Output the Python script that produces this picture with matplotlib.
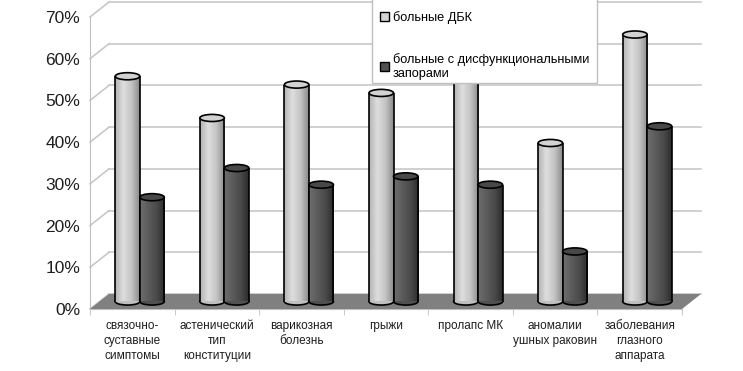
import numpy as np
import matplotlib
matplotlib.use('Agg')
import matplotlib.pyplot as plt
from matplotlib.patches import Ellipse, Polygon, Patch, Rectangle
from matplotlib.colors import LinearSegmentedColormap
from matplotlib.transforms import Affine2D

# данные
categories = ['связочно-\nсуставные\nсимптомы', 'астенический\nтип\nконституции',
              'варикозная\nболезнь', 'грыжи', 'пролапс МК',
              'аномалии\nушных раковин', 'заболевания\nглазного\nаппарата']
dbk = [54, 44, 52, 50, 56, 38, 64]
zapory = [25, 32, 28, 30, 28, 12, 42]
series_names = ['больные ДБК', 'больные с дисфункциональными\nзапорами']
y_ticks = [0, 10, 20, 30, 40, 50, 60, 70]

plt.rcParams['font.family'] = ['Liberation Sans', 'DejaVu Sans']

light_cmap = LinearSegmentedColormap.from_list('light', ['#b4b4b4', '#dedede', '#c4c4c4', '#8a8a8a'])
dark_cmap = LinearSegmentedColormap.from_list('dark', ['#6e6e6e', '#5c5c5c', '#4a4a4a', '#2c2c2c'])

W, H = 743, 371
fig = plt.figure(figsize=(W / 100, H / 100), dpi=100)
ax = fig.add_axes([90 / W, 62 / H, 592 / W, 292 / H])
n = len(categories)
ax.set_xlim(0, n)
ax.set_ylim(0, 70)

# смещения "глубины" в пикселях
mid = ax.transData + Affine2D().translate(7.5, 7.5)
back = ax.transData + Affine2D().translate(19, 15)
inv = ax.transData.inverted()


def to_data(trans, pt):
    return inv.transform(trans.transform(pt))


# задняя стенка и боковые линии сетки
for t in y_ticks:
    ax.plot([0, n], [t, t], transform=back, color='#c8c8c8', lw=1.2, clip_on=False, zorder=1)
    p1 = to_data(back, (0, t))
    ax.plot([0, p1[0]], [t, p1[1]], color='#c8c8c8', lw=1.2, clip_on=False, zorder=1)

# пол
b0 = to_data(back, (0, 0))
b1 = to_data(back, (n, 0))
floor = Polygon([(0, 0), (n, 0), b1, b0], closed=True, facecolor='#808080',
                edgecolor='none', clip_on=False, zorder=2)
ax.add_patch(floor)

# цилиндры
w = 0.29
off = 0.145
eh = 1.7
grad = np.linspace(0, 1, 64).reshape(1, -1)
for i in range(n):
    for x, v, cmap, top_c, bot_c in [(i + 0.5 - off, dbk[i], light_cmap, '#d2d2d2', '#c0c0c0'),
                                     (i + 0.5 + off, zapory[i], dark_cmap, '#484848', '#505050')]:
        z = 3 + i * 0.1 + (0.05 if cmap is dark_cmap else 0)
        bot = Ellipse((x, 0), w, eh, facecolor=bot_c, edgecolor='black', lw=1.2,
                      transform=mid, zorder=z, clip_on=False)
        ax.add_patch(bot)
        rect = ax.bar(x, v, w, color=bot_c, lw=0, transform=mid, zorder=z + 0.01, clip_on=False)[0]
        im = ax.imshow(grad, extent=(x - w / 2, x + w / 2, 0, v), cmap=cmap, aspect='auto',
                       transform=mid, zorder=z + 0.02, interpolation='bilinear')
        im.set_clip_path(rect)
        ax.vlines([x - w / 2, x + w / 2], 0, v, colors='black', lw=1.2, transform=mid, zorder=z + 0.03)
        top = Ellipse((x, v), w, eh, facecolor=top_c, edgecolor='black', lw=1.2,
                      transform=mid, zorder=z + 0.04, clip_on=False)
        ax.add_patch(top)

ax.set_xlim(0, n)
ax.set_ylim(0, 70)

# оси
for s in ['top', 'right']:
    ax.spines[s].set_visible(False)
for s in ['left', 'bottom']:
    ax.spines[s].set_color('#c0c0c0')
    ax.spines[s].set_zorder(1)

ax.set_yticks(y_ticks)
ax.set_yticklabels([f'{t}%' for t in y_ticks], fontsize=12.5, color='#1e1e1e')
ax.tick_params(axis='y', length=0, pad=7)

ax.set_xticks(np.arange(n) + 0.5)
ax.set_xticklabels(categories, fontsize=8.5, color='#1e1e1e', linespacing=1.35)
ax.set_xticks(np.arange(n + 1), minor=True)
ax.tick_params(axis='x', which='major', length=0, pad=8)
ax.tick_params(axis='x', which='minor', length=4, color='#c0c0c0')

# легенда: рамка отдельно, записи без рамки
fig.patches.append(Rectangle((372 / W, (H - 83) / H), (597 - 372) / W, 90 / H,
                             transform=fig.transFigure, facecolor='white',
                             edgecolor='#c0c0c0', lw=1, zorder=10))
handles = [Patch(facecolor='#d6d6d6', edgecolor='black'), Patch(facecolor='#505050', edgecolor='black')]
leg = fig.legend(handles, series_names, loc='upper left', bbox_to_anchor=(372 / W, 1 - 3 / H),
                 fontsize=9.2, frameon=False,
                 handlelength=0.7, handleheight=0.7, handletextpad=0.35, labelspacing=2.3,
                 borderpad=0.6, borderaxespad=0)
leg.set_zorder(11)

fig.savefig('out.png', dpi=100)
